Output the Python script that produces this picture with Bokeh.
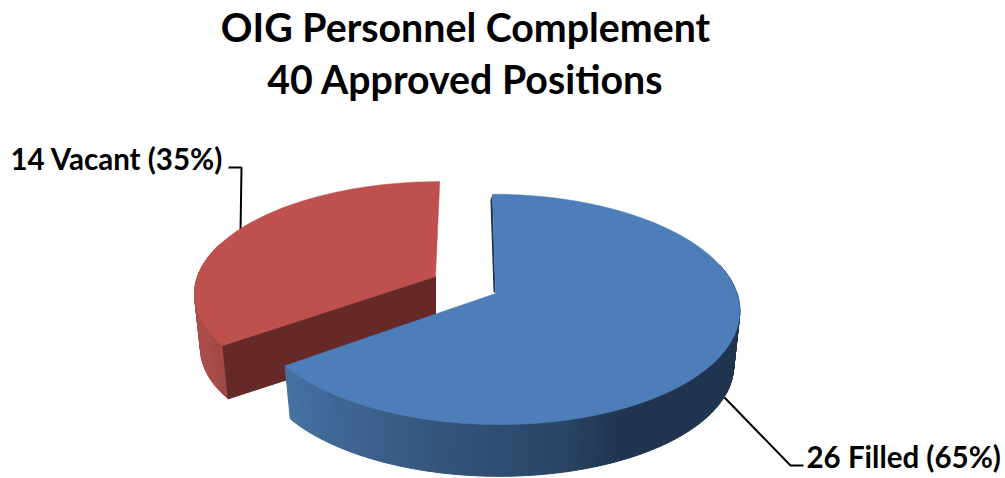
import numpy as np
from bokeh.plotting import figure
from bokeh.models import Range1d
from bokeh.core.properties import value
from bokeh.embed import file_html
from bokeh.resources import INLINE

# data
categories = ["Filled", "Vacant"]
counts = [26, 14]
slice_labels = ["26 Filled (65%)", "14 Vacant (35%)"]
title_lines = ["OIG Personnel Complement", "40 Approved Positions"]

FONT = value("Lato")
total = sum(counts)
sweep = 360.0 * counts[0] / total

K, VX, DROP, SHRINK = 0.138, 470.0, 55.0, 0.975


def ring(theta_deg, cx, cy, a, b, bottom=False):
    t = np.radians(np.asarray(theta_deg, dtype=float))
    s = 1 / (1 + K * np.cos(t))
    x = cx + a * np.sin(t) * s + (VX - cx) * (1 - s)
    y = cy - b * np.cos(t) * s
    if bottom:
        x = cx + SHRINK * (x - cx)
        y = cy + DROP + SHRINK * (y - cy)
    return x, y


def lerp_color(x, stops, cols):
    c = [np.interp(x, stops, [h[i] for h in cols]) for i in range(3)]
    return "#%02x%02x%02x" % tuple(int(round(v)) for v in c)


def strips(theta, cx, cy, a, b, colour_of):
    tx, ty = ring(theta, cx, cy, a, b)
    bx, by = ring(theta, cx, cy, a, b, bottom=True)
    xs, ys, cols = [], [], []
    for i in range(len(theta) - 1):
        xs.append([tx[i], tx[i + 1], bx[i + 1], bx[i]])
        ys.append([ty[i], ty[i + 1], by[i + 1], by[i]])
        cols.append(colour_of(0.5 * (tx[i] + tx[i + 1])))
    return xs, ys, cols


p = figure(width=1005, height=478, output_backend="svg", toolbar_location=None,
           x_range=Range1d(0, 1005), y_range=Range1d(478, 0),
           min_border=0, outline_line_color=None)
p.axis.visible = False
p.grid.visible = False
p.background_fill_color = "white"
p.border_fill_color = "white"

# leader lines
p.line([228, 241, 240], [167, 167, 232], line_color="black", line_width=2)
p.line([724, 790, 803], [397, 465, 465], line_color="black", line_width=2)

# vacant slice
RC = (435.0, 276.0, 238.0, 108.0)
rt = np.linspace(sweep, 360, 80)
xs, ys, cols = strips(rt[:35], *RC, lambda x: lerp_color(x, [195, 225], [(170, 78, 75), (160, 72, 69)]))
p.patches(xs, ys, fill_color=cols, line_color=cols, line_width=1)
cx0, cy0 = ring([sweep], *RC)
cx1, cy1 = ring([sweep], *RC, bottom=True)
p.patch([RC[0], cx0[0], cx1[0], RC[0]], [RC[1], cy0[0], cy1[0], RC[1] + DROP],
        fill_color="#652a28", line_color="#652a28", line_width=1)
x, y = ring(rt, *RC)
p.patch(np.r_[RC[0], x], np.r_[RC[1], y], fill_color="#be514d", line_color="#be514d", line_width=0.5)

# filled slice
BC = (495.0, 293.0, 241.5, 113.0)
tx, ty = ring([0.0], *BC)
p.patch([tx[0], BC[0], BC[0] - 2, tx[0] - 2], [ty[0], BC[1], BC[1] - 2, ty[0] + 6],
        fill_color="#1f344f", line_color=None)
stops = [288, 340, 450, 560, 620, 745]
shades = [(70, 113, 162), (63, 101, 146), (50, 83, 120), (42, 69, 102), (32, 52, 79), (31, 52, 79)]
bt = np.linspace(75, sweep, 150)
xs, ys, cols = strips(bt, *BC, lambda x: lerp_color(x, stops, shades))
p.patches(xs, ys, fill_color=cols, line_color=cols, line_width=1)
tt = np.linspace(0, sweep, 200)
x, y = ring(tt, *BC)
p.patch(np.r_[BC[0], x], np.r_[BC[1], y], fill_color="#4d7eba", line_color="#4d7eba", line_width=0.5)

# texts
p.text([465, 465], [26, 78], text=title_lines, text_font=FONT, text_font_style="bold",
       text_font_size="39.3px", text_align="center", text_baseline="alphabetic", text_color="black")
p.text([10], [158], text=[slice_labels[1]], text_font=FONT, text_font_style="bold",
       text_font_size="29.5px", text_align="left", text_baseline="alphabetic", text_color="black")
p.text([806], [456], text=[slice_labels[0]], text_font=FONT, text_font_style="bold",
       text_font_size="29.5px", text_align="left", text_baseline="alphabetic", text_color="black")

open("out.html", "w").write(file_html(p, INLINE))
